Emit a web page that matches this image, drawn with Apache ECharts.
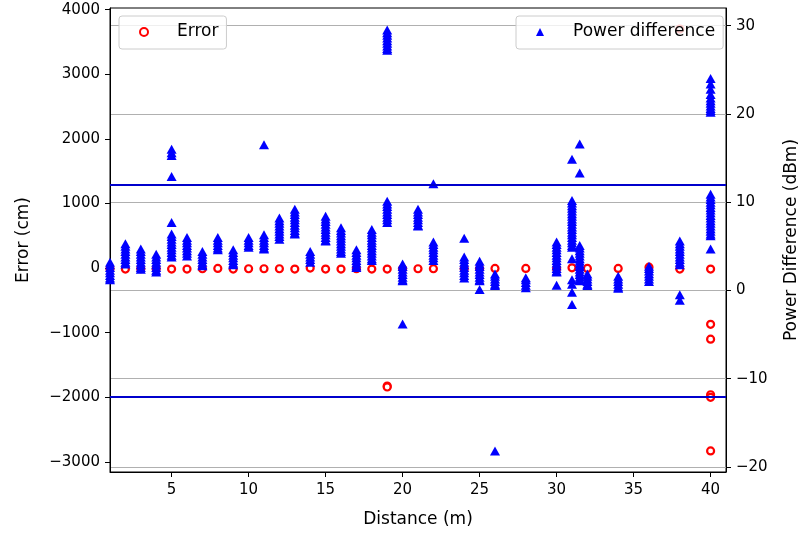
<!DOCTYPE html>
<html><head><meta charset="utf-8">
<script src="https://cdn.jsdelivr.net/npm/echarts@6/dist/echarts.min.js"></script>
<style>html,body{margin:0;padding:0;background:#fff}#c{width:808px;height:533px}</style>
</head><body><div id="c"></div>
<script>
// ---- data ----
const xTicks = [5, 10, 15, 20, 25, 30, 35, 40];
const errorTicks = [-3000, -2000, -1000, 0, 1000, 2000, 3000, 4000];
const powerTicks = [-20, -10, 0, 10, 20, 30];
const thresholds = [12, -12];

// Error (cm) points: [distance, error]
const errorPoints = [
  [1,-10],[2,-15],[3,-10],[4,-10],[5,-15],[6,-15],[7,-10],[8,-5],[9,-15],[10,-10],
  [11,-10],[12,-10],[13,-15],[14,0],[15,-15],[16,-15],[17,-10],[18,-15],[19,-15],
  [19,-1825],[19,-1840],[20,-10],[21,-10],[22,-10],[24,-10],[25,-10],[26,-5],[28,-5],
  [30,-10],[31,5],[32,-5],[34,-5],[36,15],[38,-15],[38,3700],
  [40,-15],[40,-870],[40,-1100],[40,-1960],[40,-2000],[40,-2830]
];

// Power difference (dBm) readings, one list per distance
const powerDist = [1,2,3,4,5,6,7,8,9,10,11,12,13,14,15,16,17,18,19,20,21,22,24,25,26,28,30,31,31.5,32,34,36,38,40];
const powerVals = [
  [3.2,2.9,2.6,2.3,2.0,1.7,1.4,1.2],
  [5.3,5.0,4.7,4.4,4.1,3.8,3.5,3.2,3.0],
  [4.7,4.4,4.1,3.8,3.5,3.2,2.9,2.6,2.4],
  [4.1,3.8,3.5,3.2,2.9,2.6,2.3,2.1],
  [16.0,15.6,15.3,12.9,7.7,6.4,6.1,5.8,5.5,5.2,4.9,4.6,4.3,4.0,3.8],
  [6.0,5.7,5.4,5.1,4.8,4.5,4.2,3.9],
  [4.4,4.1,3.8,3.5,3.2,2.9,2.8],
  [6.0,5.7,5.4,5.1,4.8,4.6],
  [4.6,4.3,4.0,3.7,3.4,3.1,2.9],
  [6.0,5.7,5.4,5.1,4.9],
  [16.5,6.3,6.0,5.7,5.4,5.1,4.8,4.7],
  [8.2,7.9,7.6,7.3,7.0,6.7,6.4,6.1,5.8],
  [9.2,8.9,8.6,8.3,8.0,7.7,7.4,7.1,6.8,6.5,6.4],
  [4.4,4.1,3.8,3.5,3.2],
  [8.4,8.1,7.8,7.5,7.2,6.9,6.6,6.3,6.0,5.7,5.6],
  [7.1,6.8,6.5,6.2,5.9,5.6,5.3,5.0,4.7,4.4,4.2],
  [4.6,4.3,4.0,3.7,3.4,3.1,2.8,2.6],
  [6.9,6.6,6.3,6.0,5.7,5.4,5.1,4.8,4.5,4.2,3.9,3.6,3.4],
  [29.5,29.2,28.9,28.6,28.3,28.0,27.7,27.4,27.2,10.1,9.8,9.5,9.2,8.9,8.6,8.3,8.0,7.7],
  [3.0,2.7,2.4,2.1,1.8,1.5,1.2,1.1,-3.8],
  [9.2,8.9,8.6,8.3,8.0,7.7,7.4,7.3],
  [12.1,5.5,5.2,4.9,4.6,4.3,4.0,3.7,3.4],
  [5.9,3.8,3.5,3.2,2.9,2.6,2.3,2.0,1.7,1.4],
  [3.3,3.0,2.7,2.4,2.1,1.8,1.5,1.2,1.1,0.1],
  [1.85,1.6,1.3,1.0,0.7,0.55,-18.2],
  [1.45,1.2,0.9,0.6,0.3],
  [5.5,5.2,4.9,4.6,4.3,4.0,3.7,3.4,3.1,2.8,2.5,2.2,2.1,0.6],
  [14.85,10.2,9.9,9.6,9.3,9.0,8.7,8.4,8.1,7.8,7.5,7.2,6.9,6.6,6.3,6.0,5.7,5.4,5.1,4.9,3.6,1.2,0.7,-0.2,-1.6],
  [16.6,13.3,5.1,4.8,4.5,4.2,3.9,3.6,3.3,3.0,2.7,2.4,2.1,1.8,1.5,1.2,1.1],
  [1.85,1.6,1.3,1.0,0.7,0.55],
  [1.6,1.3,1.0,0.7,0.4,0.25],
  [2.75,2.5,2.2,1.9,1.6,1.3,1.0],
  [5.6,5.3,5.0,4.7,4.4,4.1,3.8,3.5,3.2,2.9,-0.5,-1.1],
  [24.0,23.4,22.8,22.2,21.8,21.5,21.2,20.9,20.6,20.4,20.2,10.9,10.6,10.3,10.0,9.7,9.4,9.1,8.8,8.5,8.2,7.9,7.6,7.3,7.0,6.7,6.4,6.2,4.7]
];

const powerPoints = [];
powerDist.forEach((d, i) => powerVals[i].forEach(v => powerPoints.push([d, v])));

const FONT = 'DejaVu Sans';
const chart = echarts.init(document.getElementById('c'), null, {renderer: 'canvas'});
const legendBase = {
  orient: 'horizontal', top: 16, padding: [6, 8, 7, 20],
  itemWidth: 8, itemHeight: 8,
  backgroundColor: 'rgba(255,255,255,0.8)', borderColor: '#cccccc', borderWidth: 1, borderRadius: 3,
  textStyle: {fontFamily: FONT, fontSize: 17, color: '#000', padding: [0, 0, 0, 24], lineHeight: 20},
  selectedMode: false
};
chart.setOption({
  animation: false,
  backgroundColor: '#fff',
  textStyle: {fontFamily: FONT},
  grid: {left: 110, right: 73, top: 8, bottom: 60, show: true, borderColor: '#000', borderWidth: 1, backgroundColor: 'transparent'},
  legend: [
    Object.assign({}, legendBase, {left: 119, data: [{name: 'Error', icon: 'circle', itemStyle: {color: '#fff', borderColor: '#ff0000', borderWidth: 2}}]}),
    Object.assign({}, legendBase, {left: 516, data: [{name: 'Power difference', icon: 'triangle', itemStyle: {color: '#0000ff'}}]})
  ],
  xAxis: {
    type: 'value', min: 1, max: 41,
    name: 'Distance (m)', nameLocation: 'middle', nameGap: 39,
    nameTextStyle: {fontFamily: FONT, fontSize: 17, color: '#000'},
    axisLine: {onZero: false, lineStyle: {color: '#000', width: 1}},
    axisTick: {show: true, length: 5, customValues: xTicks, lineStyle: {color: '#000'}},
    axisLabel: {customValues: xTicks, fontFamily: FONT, fontSize: 15, color: '#000', margin: 11},
    splitLine: {show: false}
  },
  yAxis: [
    {
      type: 'value', position: 'left', min: -3156, max: 4026,
      name: 'Error (cm)', nameLocation: 'middle', nameGap: 78, nameRotate: 90,
      nameTextStyle: {fontFamily: FONT, fontSize: 17, color: '#000'},
      axisLine: {show: true, lineStyle: {color: '#000', width: 1}},
      axisTick: {show: true, length: 5, customValues: errorTicks, lineStyle: {color: '#000'}},
      axisLabel: {customValues: errorTicks, fontFamily: FONT, fontSize: 15, color: '#000', margin: 10,
        formatter: v => (v < 0 ? '\u2212' + Math.abs(v) : String(v))},
      splitLine: {show: false}
    },
    {
      type: 'value', position: 'right', min: -20.57, max: 32,
      name: 'Power Difference (dBm)', nameLocation: 'middle', nameGap: 57, nameRotate: 90,
      nameTextStyle: {fontFamily: FONT, fontSize: 17, color: '#000'},
      axisLine: {show: true, lineStyle: {color: '#000', width: 1}},
      axisTick: {show: true, length: 5, customValues: powerTicks, lineStyle: {color: '#000'}},
      axisLabel: {customValues: powerTicks, fontFamily: FONT, fontSize: 15, color: '#000', margin: 10,
        formatter: v => (v < 0 ? '\u2212' + Math.abs(v) : String(v))},
      splitLine: {show: true, lineStyle: {color: '#b0b0b0', width: 1}}
    }
  ],
  series: [
    {
      name: 'Error', type: 'scatter', yAxisIndex: 0, z: 2,
      symbol: 'circle', symbolSize: 7,
      itemStyle: {color: '#ffffff', borderColor: '#ff0000', borderWidth: 2.2, opacity: 1},
      data: errorPoints
    },
    {
      name: 'Power difference', type: 'scatter', yAxisIndex: 1, z: 3,
      symbol: 'triangle', symbolSize: [10, 9],
      itemStyle: {color: '#0000ff', opacity: 1},
      data: powerPoints,
      markLine: {
        silent: true, symbol: 'none', label: {show: false},
        lineStyle: {color: '#0000cc', width: 2, type: 'solid'},
        data: thresholds.map(t => ({yAxis: t}))
      }
    }
  ]
});
</script></body></html>
